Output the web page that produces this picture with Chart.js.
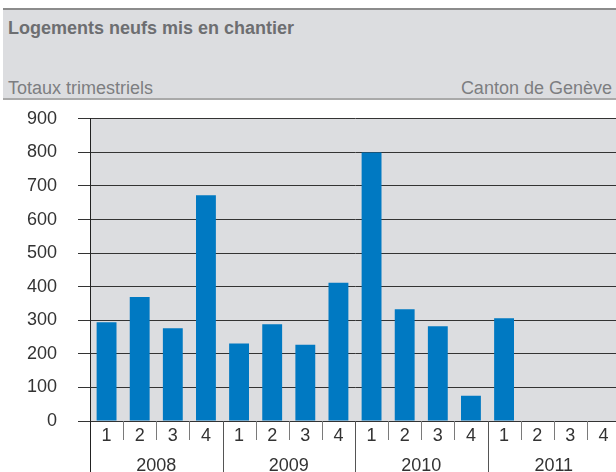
<!DOCTYPE html>
<html>
<head>
<meta charset="utf-8">
<script src="https://cdn.jsdelivr.net/npm/chart.js@4"></script>
<style>
  body { margin: 0; background: #fff; overflow: hidden; width: 616px; height: 472px; position: relative; font-family: "Liberation Sans", Arial, sans-serif; }
  #head { position: absolute; left: 3px; top: 8px; width: 613px; height: 88px; background: #dcdde0; border-top: 2px solid #8c8c8c; border-bottom: 2px solid #a9a9a9; }
  .t { position: absolute; font-size: 18px; line-height: 20px; white-space: nowrap; }
  #title { left: 5px; top: 8px; font-weight: bold; color: #6d6e71; }
  #sub { left: 5px; top: 68px; color: #7d7e81; }
  #place { right: 4px; top: 68px; color: #7d7e81; }
  #wrap { position: absolute; left: 0; top: 87px; width: 616px; height: 385px; overflow: hidden; }
  canvas { display: block; }
</style>
</head>
<body>
<div id="head">
  <div class="t" id="title">Logements neufs mis en chantier</div>
  <div class="t" id="sub">Totaux trimestriels</div>
  <div class="t" id="place">Canton de Genève</div>
</div>
<div id="wrap"><canvas id="c" width="620" height="385"></canvas></div>
<script>
// trimestres 2008-2011
const quarters = ['1', '2', '3', '4', '1', '2', '3', '4', '1', '2', '3', '4', '1', '2', '3', '4'];
const years = ['2008', '2009', '2010', '2011'];
const logements = [294, 369, 276, 672, 231, 288, 227, 412, 800, 333, 282, 75, 306, null, null, null];
const yTicks = [0, 100, 200, 300, 400, 500, 600, 700, 800, 900];

const FONT = { family: '"Liberation Sans", Arial, sans-serif', size: 18 };

// fond gris de la zone du graphique
const plotBg = {
    id: 'plotBg',
    beforeDraw(chart) {
        const a = chart.chartArea, ctx = chart.ctx;
        ctx.save();
        ctx.fillStyle = '#dcdde0';
        ctx.fillRect(a.left, a.top, a.right - a.left, a.bottom - a.top);
        ctx.restore();
    }
};

// séparateurs trimestres / années sous l'axe
const separators = {
    id: 'separators',
    afterDraw(chart) {
        const x = chart.scales.x, ctx = chart.ctx;
        const step = x.getPixelForValue(1) - x.getPixelForValue(0);
        const y0 = chart.chartArea.bottom;
        ctx.save();
        ctx.lineWidth = 1;
        for (let i = 0; i <= quarters.length; i++) {
            const bx = Math.round(x.getPixelForValue(i) - step / 2) + 0.5;
            const yearLine = i % 4 === 0;
            ctx.strokeStyle = i === 0 ? '#222' : (yearLine ? '#555' : '#7a7a7a');
            ctx.beginPath();
            ctx.moveTo(bx, y0);
            ctx.lineTo(bx, yearLine ? chart.height : y0 + 19);
            ctx.stroke();
        }
        ctx.restore();
    }
};

new Chart(document.getElementById('c'), {
    type: 'bar',
    data: {
        labels: quarters,
        datasets: [{
            data: logements,
            backgroundColor: '#0079c2',
            barPercentage: 0.6,
            categoryPercentage: 1
        }]
    },
    options: {
        responsive: false,
        animation: false,
        layout: { autoPadding: false, padding: { top: 19, left: 0, right: 0, bottom: 0 } },
        plugins: { legend: { display: false }, tooltip: { enabled: false } },
        scales: {
            x: {
                type: 'category',
                position: 'bottom',
                grid: { display: false },
                border: { display: false },
                ticks: { color: '#333', font: FONT, padding: -4, maxRotation: 0, autoSkip: false },
                afterFit(s) { s.height = 30; }
            },
            x2: {
                type: 'category',
                position: 'bottom',
                labels: years,
                offset: true,
                grid: { display: false },
                border: { display: false },
                ticks: { color: '#333', font: FONT, padding: -4, maxRotation: 0 },
                afterFit(s) { s.height = 21; }
            },
            y: {
                min: 0,
                max: 900,
                afterBuildTicks(s) { s.ticks = yTicks.map(v => ({ value: v })); },
                grid: { color: '#333', lineWidth: 1, tickLength: 12, drawTicks: true },
                border: { display: true, color: '#222', width: 1 },
                ticks: { color: '#333', font: FONT, padding: 21 },
                afterFit(s) { s.width = 90; }
            }
        }
    },
    plugins: [plotBg, separators]
});
</script>
</body>
</html>
